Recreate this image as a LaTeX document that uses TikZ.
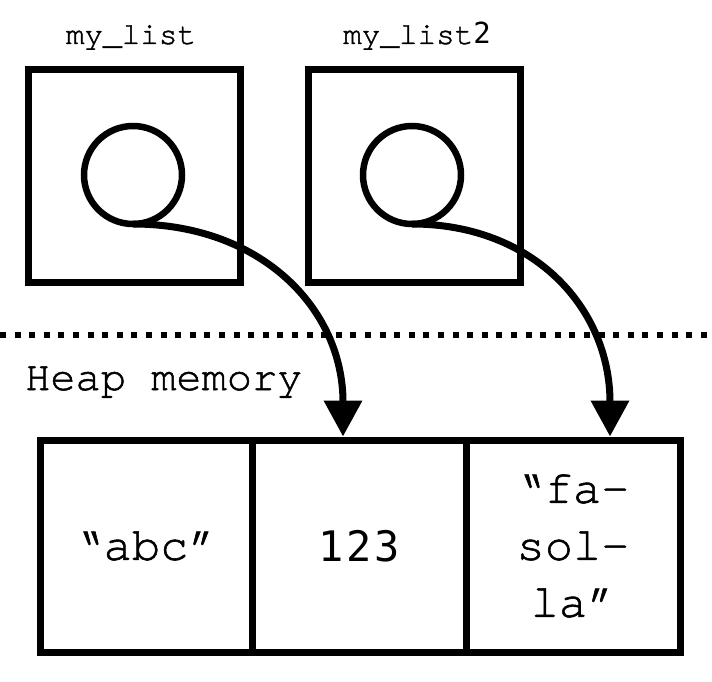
\documentclass[tikz,border=0pt]{standalone}
\usepackage{fontspec}
\setmonofont{TeX Gyre Cursor}[FakeBold=1.2]
\newfontfamily\digitfont{DejaVu Sans Mono}[LetterSpace=6]
\usetikzlibrary{arrows.meta}

\begin{document}
\begin{tikzpicture}[
  x=1pt,
  y=-1pt,
  line join=miter,
  varbox/.style={draw=black,line width=7pt,minimum width=212pt,minimum height=212pt,inner sep=0pt},
  heapcell/.style={draw=black,line width=7pt,minimum width=214pt,minimum height=212pt,inner sep=0pt,
    align=center,font=\ttfamily\fontsize{47}{57}\selectfont},
  refdot/.style={draw=black,line width=6.5pt,circle,minimum size=98pt,inner sep=0pt,outer sep=0pt},
  varname/.style={anchor=base,inner sep=0pt,font=\ttfamily\fontsize{31}{37}\selectfont},
  divider/.style={draw=black,line width=6pt,dash pattern=on 6pt off 8.6pt},
  pointer/.style={draw=black,line width=7pt,-{Triangle[length=36pt,width=37pt]}}
]
  \useasboundingbox (0,0) rectangle (712,682);

  % Stack variables, each holding a reference.
  \node[varbox] (var1) at (134,176) {};
  \node[varbox] (var2) at (414,176) {};
  \node[varname] (name1) at (131,44) {my\_list};
  \node[varname] (name2) at (417,44) {my\_list{\digitfont\fontsize{29}{35}\selectfont 2}};
  \node[refdot] (ref1) at (133,175) {};
  \node[refdot] (ref2) at (412,175) {};

  % Stack / heap boundary.
  \coordinate (sepL) at (0,335);
  \coordinate (sepR) at (712,335);
  \draw[divider] (sepL) -- (sepR);
  \node[anchor=base west,inner sep=0pt,font=\ttfamily\fontsize{42}{49}\selectfont] (heap) at (25,390) {Heap memory};

  % Heap objects.
  \node[heapcell,minimum width=212pt] (cellA) at (146,546) {“abc”};
  \node[heapcell] (cellB) at (359,546) {\digitfont\fontsize{42}{52}\selectfont 123};
  \node[heapcell] (cellC) at (573,546) {“fa-\\sol-\\la”};

  % References into the heap.
  \draw[pointer] (ref1.south) .. controls +(128,0) and +(0,-128) .. ([xshift=-16pt]cellB.north);
  \draw[pointer] (ref2.south) .. controls +(122,0) and +(0,-128) .. ([xshift=37pt]cellC.north);
\end{tikzpicture}
\end{document}
